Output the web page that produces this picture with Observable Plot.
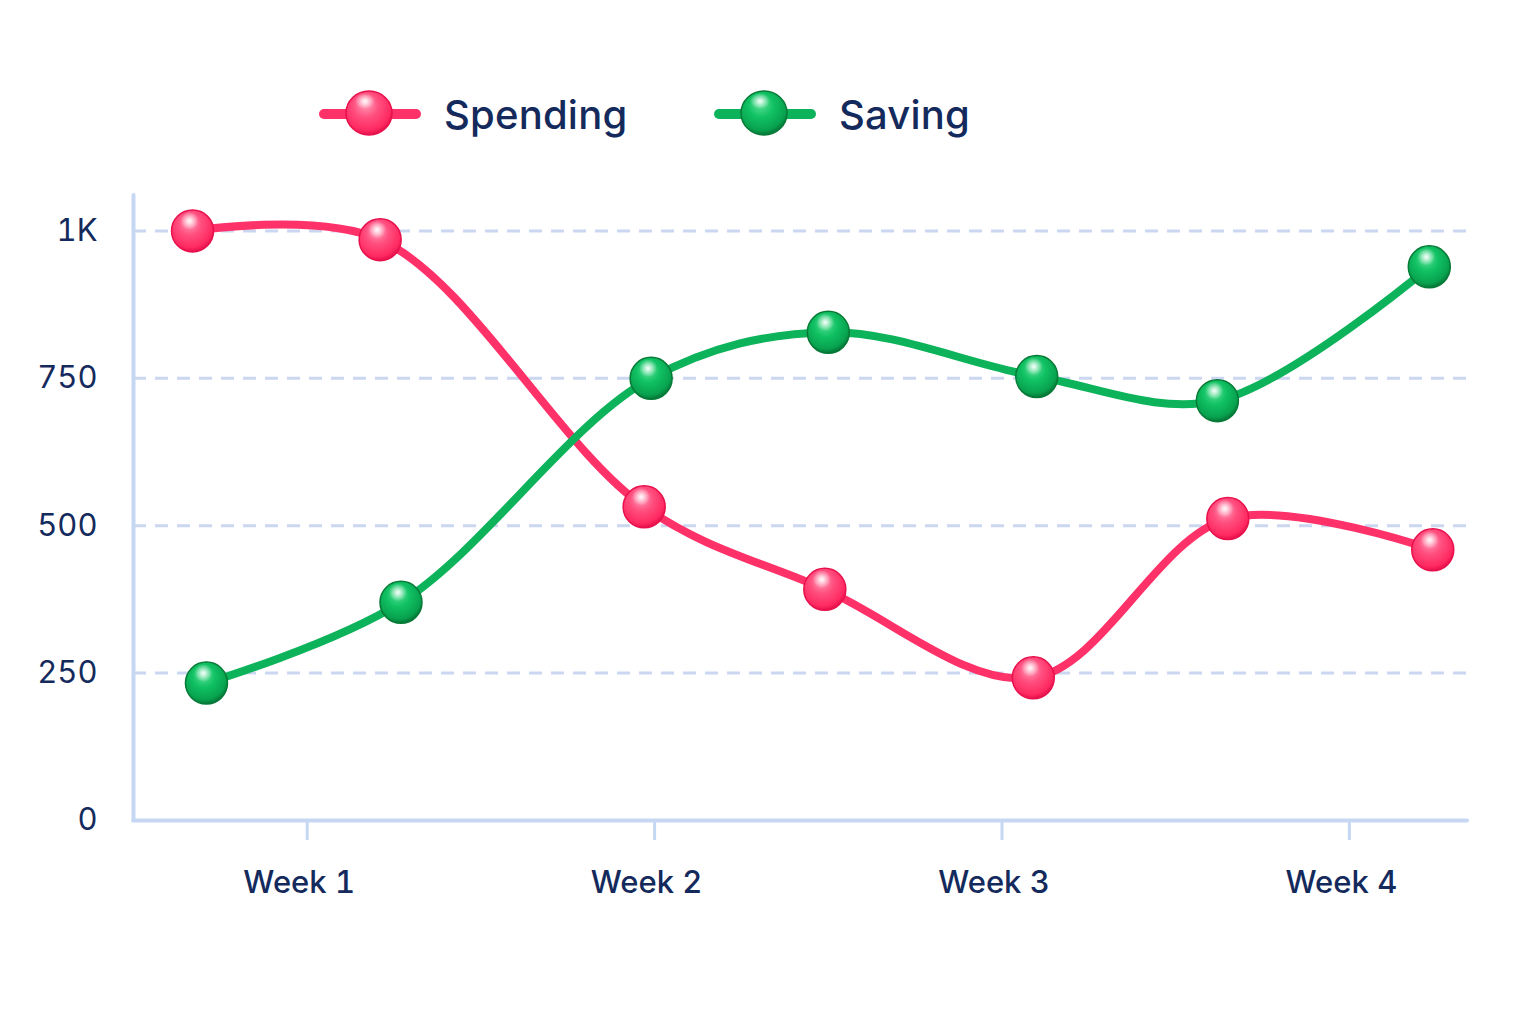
<!DOCTYPE html>
<html>
<head>
<meta charset="utf-8">
<script src="https://cdn.jsdelivr.net/npm/d3@7"></script>
<script src="https://cdn.jsdelivr.net/npm/@observablehq/plot@0.6"></script>
<style>
  html, body { margin: 0; padding: 0; background: #ffffff; }
  #wrap { position: relative; width: 1536px; height: 1024px; overflow: hidden; font-family: Inter, "Noto Sans", sans-serif; }
  #legend { position: absolute; left: 0; top: 0; width: 1536px; height: 170px; }
  .item { position: absolute; top: 86px; height: 56px; display: flex; align-items: center; }
  .item span { font-size: 40px; font-weight: 500; color: #142a5c; margin-left: 24px; letter-spacing: 0.2px; }
  #chart { position: absolute; left: 0; top: 170px; }
</style>
</head>
<body>
<div id="wrap">
  <div id="legend"></div>
  <div id="chart"></div>
</div>
<script>
// ---- data ----
const seriesNames = ["Spending", "Saving"];
const seriesColors = ["#ff3169", "#0db35a"];
const weekTicks = [1, 2, 3, 4];
const weekLabels = ["Week 1", "Week 2", "Week 3", "Week 4"];
const yTicks = [0, 250, 500, 750, 1000];
const yTickLabels = ["0", "250", "500", "750", "1K"];
const spendingX = [0.67, 1.21, 1.97, 2.49, 3.09, 3.65, 4.24];
const spendingY = [1000, 985, 532, 392, 242, 512, 459];
const savingX = [0.71, 1.27, 1.99, 2.50, 3.10, 3.62, 4.23];
const savingY = [233, 370, 750, 828, 753, 712, 939];

const spending = spendingX.map((x, i) => ({x, y: spendingY[i]}));
const saving = savingX.map((x, i) => ({x, y: savingY[i]}));

const axisColor = "#c6d7f4";
const textColor = "#142a5c";

const chart = Plot.plot({
  width: 1536,
  height: 854,
  marginTop: 25,
  marginBottom: 204,
  marginLeft: 133,
  marginRight: 69,
  style: {fontFamily: "Inter, 'Noto Sans', sans-serif", fontSize: "30px", color: textColor, background: "transparent"},
  x: {domain: [0.5, 4.34], axis: null},
  y: {domain: [0, 1060], axis: null},
  marks: [
    Plot.ruleY(yTicks.slice(1), {stroke: "#c5d3ee", strokeWidth: 3, strokeDasharray: "13 9", strokeOpacity: 0.9}),
    Plot.axisY({ticks: yTicks, tickFormat: d => yTickLabels[yTicks.indexOf(d)], tickSize: 0, tickPadding: 36, fontSize: 31, fill: textColor, label: null}),
    Plot.axisX({ticks: weekTicks, tickSize: 20, text: null, stroke: axisColor, strokeWidth: 3, label: null}),
    Plot.axisX({ticks: weekTicks, tickFormat: d => weekLabels[weekTicks.indexOf(d)], tickSize: 20, tickPadding: 30, fontSize: 31, fontWeight: 500, dx: -8, stroke: "none", fill: textColor, label: null}),
    Plot.ruleX([0.5], {y1: 0, y2: 1060, stroke: axisColor, strokeWidth: 4, strokeLinecap: "round"}),
    Plot.ruleY([0], {x1: 0.5, x2: 4.34, stroke: axisColor, strokeWidth: 4, strokeLinecap: "round"}),
    Plot.line(spending, {x: "x", y: "y", curve: "catmull-rom", stroke: seriesColors[0], strokeWidth: 8, strokeLinecap: "round"}),
    Plot.line(saving, {x: "x", y: "y", curve: "catmull-rom", stroke: seriesColors[1], strokeWidth: 8, strokeLinecap: "round"}),
    Plot.dot(spending, {x: "x", y: "y", r: 21, fill: "url(#gPink)", stroke: "#e8104c", strokeWidth: 1.5}),
    Plot.dot(saving, {x: "x", y: "y", r: 21, fill: "url(#gGreen)", stroke: "#067a36", strokeWidth: 1.5}),
    Plot.dot(spending, {x: "x", y: "y", r: 9, dx: -3, dy: -10, fill: "url(#gHi)", stroke: "none"}),
    Plot.dot(saving, {x: "x", y: "y", r: 9, dx: -3, dy: -10, fill: "url(#gHi)", stroke: "none"})
  ]
});

const defsHTML = `
  <radialGradient id="gPink" cx="0.45" cy="0.38" r="0.62" fx="0.42" fy="0.28">
    <stop offset="0" stop-color="#ff9fbb"/>
    <stop offset="0.45" stop-color="#ff4f7f"/>
    <stop offset="0.85" stop-color="#ff2a61"/>
    <stop offset="1" stop-color="#e5104b"/>
  </radialGradient>
  <radialGradient id="gGreen" cx="0.45" cy="0.38" r="0.62" fx="0.42" fy="0.28">
    <stop offset="0" stop-color="#5fe39a"/>
    <stop offset="0.45" stop-color="#10c163"/>
    <stop offset="0.85" stop-color="#08a24f"/>
    <stop offset="1" stop-color="#057436"/>
  </radialGradient>
  <radialGradient id="gHi" cx="0.5" cy="0.5" r="0.5">
    <stop offset="0" stop-color="#ffffff" stop-opacity="0.95"/>
    <stop offset="0.5" stop-color="#ffffff" stop-opacity="0.45"/>
    <stop offset="1" stop-color="#ffffff" stop-opacity="0"/>
  </radialGradient>`;
const defs = document.createElementNS("http://www.w3.org/2000/svg", "defs");
defs.innerHTML = defsHTML;
chart.insertBefore(defs, chart.firstChild);
document.getElementById("chart").appendChild(chart);

// legend
const legend = document.getElementById("legend");
const legendLeft = [320, 715];
seriesNames.forEach((name, i) => {
  const item = document.createElement("div");
  item.className = "item";
  item.style.left = legendLeft[i] + "px";
  const gid = i === 0 ? "gPink" : "gGreen";
  const edge = i === 0 ? "#e8104c" : "#067a36";
  item.innerHTML = `<svg width="100" height="56" viewBox="0 0 100 56" style="overflow:visible">
      <line x1="4" y1="28" x2="96" y2="28" stroke="${seriesColors[i]}" stroke-width="10" stroke-linecap="round"/>
      <ellipse cx="49" cy="27" rx="23" ry="22" fill="url(#${gid})" stroke="${edge}" stroke-width="1.5"/>
      <ellipse cx="45" cy="15" rx="10" ry="8" fill="url(#gHi)"/>
    </svg><span>${name}</span>`;
  legend.appendChild(item);
});
</script>
</body>
</html>
